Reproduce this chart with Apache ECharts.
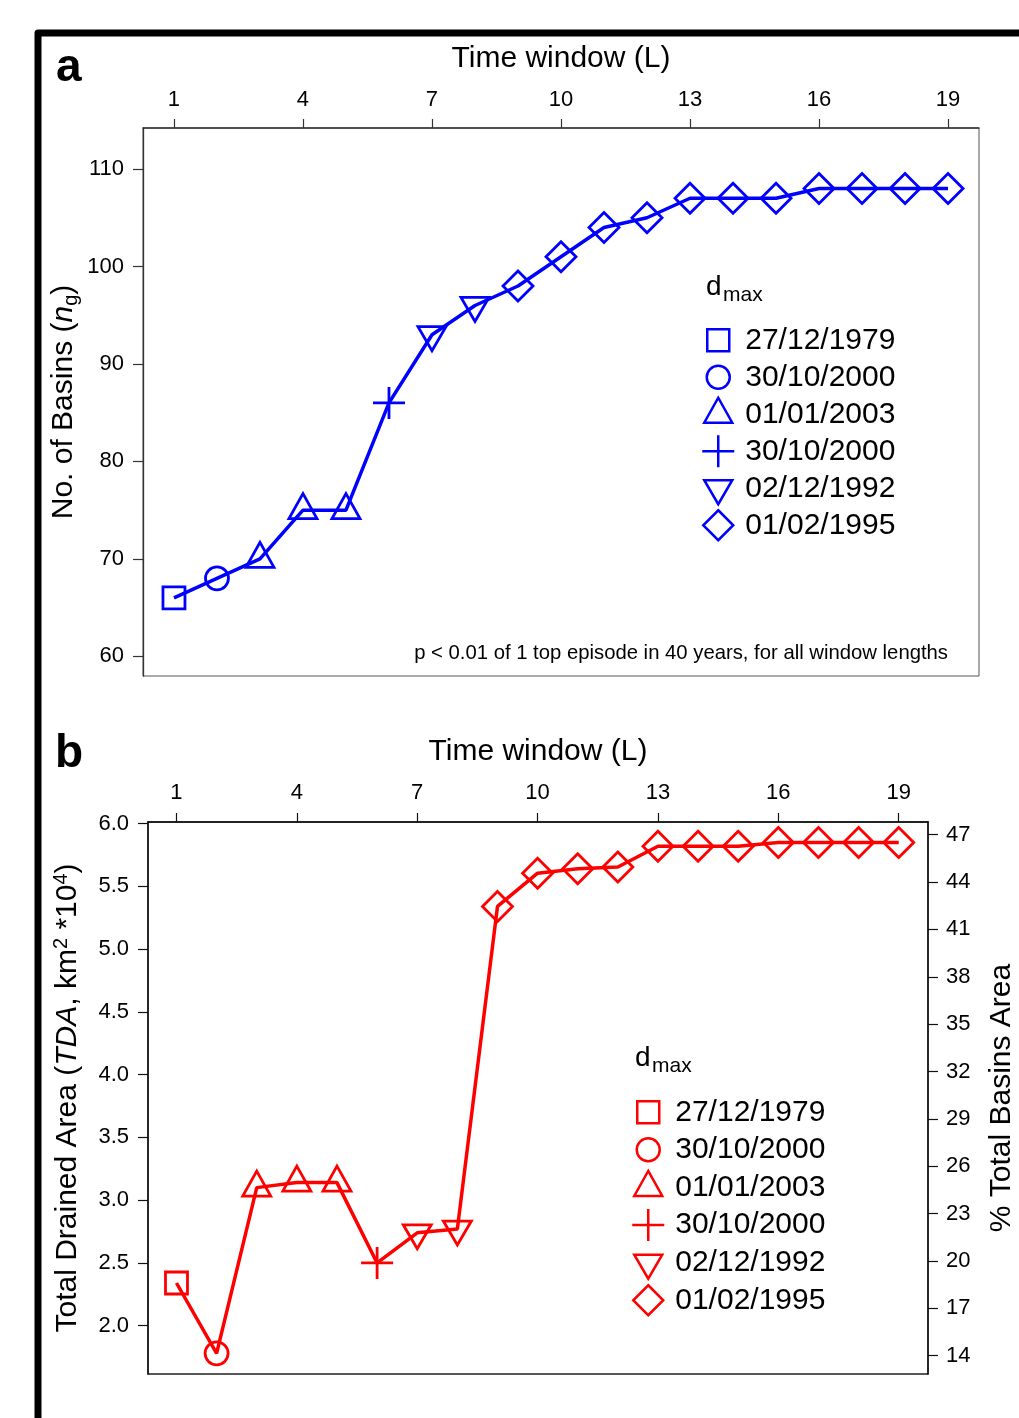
<!DOCTYPE html>
<html>
<head>
<meta charset="utf-8">
<script src="https://cdn.jsdelivr.net/npm/echarts@6/dist/echarts.min.js"></script>
<style>
html,body{margin:0;padding:0;background:#fff;}
#chart{width:1019px;height:1418px;}
</style>
</head>
<body>
<div id="chart"></div>
<script>
// ---------------- DATA ----------------
const windows = [1,2,3,4,5,6,7,8,9,10,11,12,13,14,15,16,17,18,19];
const dmaxDates = ['27/12/1979','30/10/2000','01/01/2003','30/10/2000','02/12/1992','01/02/1995'];
// index into dmaxDates for each window length
const dmaxIndex = [0,1,2,2,2,3,4,4,5,5,5,5,5,5,5,5,5,5,5];
// panel a: number of basins
const basinsA = [66,68,70,75,75,86,93,96,98,101,104,105,107,107,107,108,108,108,108];
// panel b: total drained area (km2 * 10^4)
const tdaB = [2.34,1.78,3.10,3.14,3.14,2.50,2.74,2.77,5.34,5.605,5.64,5.655,5.82,5.82,5.82,5.85,5.85,5.85,5.85];
const xTicks = [1,4,7,10,13,16,19];
const yTicksA = [60,70,80,90,100,110];
const yTicksB = [2.0,2.5,3.0,3.5,4.0,4.5,5.0,5.5,6.0];
const pctTicksB = [14,17,20,23,26,29,32,35,38,41,44,47];
const pctPerTDA = 7.95;
const noteA = 'p < 0.01 of 1 top episode in 40 years, for all window lengths';

// ---------------- STYLE ----------------
const FONT = "'Liberation Sans', Arial, Helvetica, sans-serif";
const BLUE = '#0000ff', RED = '#ff0000';
// symbols drawn in a 36x36 box, data point at (18,18)
const PAD = 'M0,0M36,36';
const SYMBOLS = [
  'path://' + PAD + 'M7,7L29,7L29,29L7,29Z',
  'path://' + PAD + 'M6.5,18A11.5,11.5,0,1,0,29.5,18A11.5,11.5,0,1,0,6.5,18Z',
  'path://' + PAD + 'M18,1.5L32,26.5L4,26.5Z',
  'path://' + PAD + 'M18,2L18,34M2,18L34,18',
  'path://' + PAD + 'M4,10L32,10L18,34Z',
  'path://' + PAD + 'M18,3L33,18L18,33L3,18Z'
];

const ZW = '\u200b';
function seriesName(g, panel) { return dmaxDates[g] + ZW.repeat(g + 1 + panel * 7); }

function buildPanel(panel, values, color, xAxisIndex, yAxisIndex) {
  const list = [];
  list.push({
    type: 'line', xAxisIndex, yAxisIndex,
    data: windows.map((w, i) => [w, values[i]]),
    symbol: 'none', silent: true,
    lineStyle: { color, width: 3.5 },
    z: 2
  });
  dmaxDates.forEach((d, g) => {
    const pts = [];
    windows.forEach((w, i) => { if (dmaxIndex[i] === g) pts.push([w, values[i]]); });
    list.push({
      type: 'scatter', name: seriesName(g, panel), xAxisIndex, yAxisIndex,
      data: pts, symbol: SYMBOLS[g], symbolSize: 36, silent: true,
      itemStyle: { color: 'rgba(0,0,0,0)', borderColor: color, borderWidth: 2.8, opacity: 1 },
      emphasis: { disabled: true },
      z: 3
    });
  });
  return list;
}

function legendFor(panel, color, left, top, gap) {
  return {
    orient: 'vertical', left, top, padding: 0, itemGap: gap,
    itemWidth: 36, itemHeight: 36, selectedMode: false,
    data: dmaxDates.map((d, g) => ({ name: seriesName(g, panel), icon: SYMBOLS[g] })),
    itemStyle: { color: 'rgba(0,0,0,0)', borderColor: color, borderWidth: 2.5 },
    formatter: n => n.replace(/\u200b/g, ''),
    textStyle: { fontSize: 30, lineHeight: 32, color: '#000', fontFamily: FONT, padding: [0, 0, 0, 4] }
  };
}

const nameStyle = {
  fontSize: 30, lineHeight: 36, color: '#000', fontFamily: FONT,
  rich: {
    it: { fontSize: 30, lineHeight: 36, fontStyle: 'italic', color: '#000', fontFamily: FONT },
    sub: { fontSize: 20, lineHeight: 20, padding: [14, 0, 0, 0], color: '#000', fontFamily: FONT },
    sup: { fontSize: 20, lineHeight: 20, padding: [0, 0, 14, 0], color: '#000', fontFamily: FONT }
  }
};

function xAxisCfg(grid, min, max, gap, lineColor, margin) {
  return {
    gridIndex: grid, type: 'value', position: 'top', min, max,
    name: 'Time window (L)', nameLocation: 'middle', nameGap: gap, nameMoveOverlap: false,
    nameTextStyle: { fontSize: 30, lineHeight: 36, color: '#000', fontFamily: FONT },
    axisLine: { show: true, onZero: false, lineStyle: { color: lineColor, width: 1.5 } },
    axisTick: { show: true, inside: false, length: 9, customValues: xTicks, lineStyle: { color: lineColor, width: 1.2 } },
    axisLabel: { customValues: xTicks, margin, fontSize: 22, color: '#000', fontFamily: FONT },
    splitLine: { show: false }
  };
}

const yMinA = 57.98, yMaxA = 114.21;
const yMinB = 1.615, yMaxB = 6.013;

const option = {
  animation: false,
  backgroundColor: '#fff',
  grid: [
    { left: 143, top: 128, width: 836, height: 548, show: true, borderColor: '#555', borderWidth: 1,
      backgroundColor: 'transparent', containLabel: false, outerBoundsMode: 'none' },
    { left: 148, top: 822, width: 780, height: 552, show: true, borderColor: '#222', borderWidth: 1.3,
      backgroundColor: 'transparent', containLabel: false, outerBoundsMode: 'none' }
  ],
  xAxis: [
    xAxisCfg(0, 0.28, 19.72, 51, '#333', 17),
    xAxisCfg(1, 0.29, 19.73, 52, '#111', 18)
  ],
  yAxis: [
    {
      gridIndex: 0, type: 'value', position: 'left', min: yMinA, max: yMaxA,
      name: 'No. of Basins ({it|n}{sub|g})', nameLocation: 'middle', nameGap: 61, nameRotate: 90, nameMoveOverlap: false,
      nameTextStyle: nameStyle,
      axisLine: { show: true, onZero: false, lineStyle: { color: '#333', width: 1.3 } },
      axisTick: { show: true, inside: false, length: 10, customValues: yTicksA, lineStyle: { color: '#333', width: 1.2 } },
      axisLabel: { customValues: yTicksA, margin: 19, fontSize: 22, color: '#000', fontFamily: FONT },
      splitLine: { show: false }
    },
    {
      gridIndex: 1, type: 'value', position: 'left', min: yMinB, max: yMaxB,
      name: 'Total Drained Area ({it|TDA}, km{sup|2} *10{sup|4})', nameLocation: 'middle', nameGap: 62, nameRotate: 90, nameMoveOverlap: false,
      nameTextStyle: nameStyle,
      axisLine: { show: true, onZero: false, lineStyle: { color: '#111', width: 1.5 } },
      axisTick: { show: true, inside: false, length: 10, customValues: yTicksB, lineStyle: { color: '#111', width: 1.2 } },
      axisLabel: { customValues: yTicksB, margin: 19, fontSize: 22, color: '#000', fontFamily: FONT, formatter: v => v.toFixed(1) },
      splitLine: { show: false }
    },
    {
      gridIndex: 1, type: 'value', position: 'right', min: yMinB * pctPerTDA, max: yMaxB * pctPerTDA,
      name: '% Total Basins Area', nameLocation: 'middle', nameGap: 56, nameRotate: 90, nameMoveOverlap: false,
      nameTextStyle: { fontSize: 30, lineHeight: 36, color: '#000', fontFamily: FONT },
      axisLine: { show: true, onZero: false, lineStyle: { color: '#111', width: 1.5 } },
      axisTick: { show: true, inside: false, length: 10, customValues: pctTicksB, lineStyle: { color: '#111', width: 1.2 } },
      axisLabel: { customValues: pctTicksB, margin: 18, fontSize: 22, color: '#000', fontFamily: FONT },
      splitLine: { show: false }
    }
  ],
  legend: [
    legendFor(0, BLUE, 699, 321, -1.5),
    legendFor(1, RED, 629, 1093, -0.9)
  ],
  series: [].concat(
    buildPanel(0, basinsA, BLUE, 0, 0),
    buildPanel(1, tdaB, RED, 1, 1)
  ),
  graphic: [
    { type: 'polyline', silent: true, shape: { points: [[1030, 33], [38, 33], [38, 1430]] },
      style: { stroke: '#000', lineWidth: 7, fill: null, lineJoin: 'round' } },
    { type: 'text', left: 56, top: 45, silent: true,
      style: { text: 'a', fontSize: 46, fontWeight: 'bold', fill: '#000', fontFamily: FONT } },
    { type: 'text', left: 55, top: 731, silent: true,
      style: { text: 'b', fontSize: 46, fontWeight: 'bold', fill: '#000', fontFamily: FONT } },
    { type: 'text', x: 948, y: 653, silent: true,
      style: { text: noteA, fontSize: 20.3, fill: '#000', fontFamily: FONT, align: 'right', verticalAlign: 'middle' } },
    { type: 'text', x: 706, y: 287, silent: true,
      style: { text: 'd', fontSize: 28, fill: '#000', fontFamily: FONT, align: 'left', verticalAlign: 'middle' } },
    { type: 'text', x: 723, y: 295, silent: true,
      style: { text: 'max', fontSize: 21, fill: '#000', fontFamily: FONT, align: 'left', verticalAlign: 'middle' } },
    { type: 'text', x: 635, y: 1058, silent: true,
      style: { text: 'd', fontSize: 28, fill: '#000', fontFamily: FONT, align: 'left', verticalAlign: 'middle' } },
    { type: 'text', x: 652, y: 1066, silent: true,
      style: { text: 'max', fontSize: 21, fill: '#000', fontFamily: FONT, align: 'left', verticalAlign: 'middle' } }
  ]
};

const chart = echarts.init(document.getElementById('chart'), null, { renderer: 'canvas' });
chart.setOption(option);
</script>
</body>
</html>
